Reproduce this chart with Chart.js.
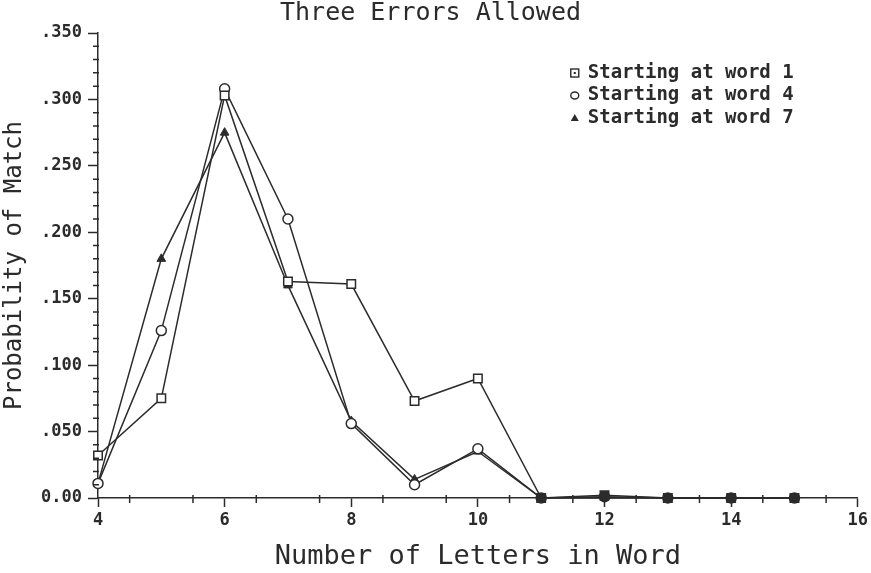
<!DOCTYPE html>
<html>
<head>
<meta charset="utf-8">
<script src="https://cdn.jsdelivr.net/npm/chart.js@4/dist/chart.umd.min.js"></script>
<style>
  html, body { margin: 0; padding: 0; background: #fff; }
  #wrap { width: 871px; height: 573px; }
</style>
</head>
<body>
<div id="wrap"><canvas id="errChart" width="871" height="573"></canvas></div>
<script>
// values
const letters = [4, 5, 6, 7, 8, 9, 10, 11, 12, 13, 14, 15];
const word1 = [0.032, 0.075, 0.303, 0.163, 0.161, 0.073, 0.090, 0, 0.002, 0, 0, 0];
const word4 = [0.011, 0.126, 0.308, 0.210, 0.056, 0.010, 0.037, 0, 0.001, 0, 0, 0];
const word7 = [0.011, 0.180, 0.275, 0.160, 0.058, 0.014, 0.035, 0, 0, 0, 0, 0];
const seriesNames = ['Starting at word 1', 'Starting at word 4', 'Starting at word 7'];
const yTickLabels = ['0.00', '.050', '.100', '.150', '.200', '.250', '.300', '.350'];

const ink = '#2b2b2b';
const mono = '"DejaVu Sans Mono", "Liberation Mono", monospace';

const toPoints = (vals) => letters.map((x, i) => ({ x: x, y: vals[i] }));

// where all three markers pile up on the axis they print as a dark blob
const pileFill = (c) => (c.raw && c.raw.y < 0.005 ? ink : '#fff');

// small crossing ticks between the labelled ones
const minorTicks = {
    id: 'minorTicks',
    afterDraw(chart) {
        const c = chart.ctx;
        const xs = chart.scales.x;
        const ys = chart.scales.y;
        c.save();
        c.strokeStyle = ink;
        c.lineWidth = 1.5;
        c.beginPath();
        for (let v = 4.5; v < 16; v += 1) {
            const px = xs.getPixelForValue(v);
            c.moveTo(px, ys.bottom - 3);
            c.lineTo(px, ys.bottom + 5);
        }
        for (let k = 1; k < 35; k++) {
            if (k % 5 === 0) continue;
            const py = ys.getPixelForValue(k / 100);
            c.moveTo(xs.left - 5, py);
            c.lineTo(xs.left + 1, py);
        }
        c.stroke();
        c.restore();
    }
};

// legend in the upper right of the plot
const cornerLegend = {
    id: 'cornerLegend',
    afterDraw(chart) {
        const c = chart.ctx;
        const area = chart.chartArea;
        const x0 = area.right - 283;
        const y0 = area.top + 40;
        c.save();
        c.font = 'bold 19px ' + mono;
        c.textBaseline = 'middle';
        c.fillStyle = ink;
        c.strokeStyle = ink;
        c.lineWidth = 1.4;
        seriesNames.forEach((name, i) => {
            const y = y0 + i * 22.5;
            if (i === 0) {
                c.strokeRect(x0 - 4, y - 4, 8, 8);
                c.fillRect(x0 - 1, y - 1, 2, 2);
            } else if (i === 1) {
                c.beginPath();
                c.ellipse(x0, y, 4, 3.5, 0, 0, Math.PI * 2);
                c.stroke();
            } else {
                c.beginPath();
                c.moveTo(x0, y - 4);
                c.lineTo(x0 + 4, y + 3);
                c.lineTo(x0 - 4, y + 3);
                c.closePath();
                c.fill();
            }
            c.fillText(name, x0 + 13, y);
        });
        c.restore();
    }
};

const ctx = document.getElementById('errChart').getContext('2d');
const chart = new Chart(ctx, {
    type: 'line',
    data: {
        datasets: [
            {
                label: seriesNames[0],
                data: toPoints(word1),
                clip: false,
                borderColor: ink,
                borderWidth: 1.5,
                pointStyle: 'rect',
                pointRadius: 6,
                pointBorderWidth: 1.5,
                pointBackgroundColor: pileFill,
                pointBorderColor: ink
            },
            {
                label: seriesNames[1],
                data: toPoints(word4),
                clip: false,
                borderColor: ink,
                borderWidth: 1.5,
                pointStyle: 'circle',
                pointRadius: 5,
                pointBorderWidth: 1.5,
                pointBackgroundColor: pileFill,
                pointBorderColor: ink
            },
            {
                label: seriesNames[2],
                data: toPoints(word7),
                clip: false,
                borderColor: ink,
                borderWidth: 1.5,
                pointStyle: 'triangle',
                pointRadius: 5,
                pointBorderWidth: 1,
                pointBackgroundColor: ink,
                pointBorderColor: ink
            }
        ]
    },
    options: {
        responsive: false,
        animation: false,
        layout: { padding: { left: 0, right: 10, top: 0, bottom: 0 } },
        plugins: {
            legend: { display: false },
            tooltip: { enabled: false },
            title: {
                display: true,
                text: 'Three Errors Allowed',
                color: ink,
                font: { family: mono, size: 25, weight: 'normal', lineHeight: 1.1 },
                padding: { top: 0, bottom: 5.5 }
            }
        },
        scales: {
            x: {
                type: 'linear',
                min: 4,
                max: 16,
                afterFit(scale) { scale.height = 75; },
                border: { display: true, color: ink, width: 1.5 },
                grid: {
                    display: true,
                    drawOnChartArea: false,
                    drawTicks: true,
                    tickLength: 9,
                    tickColor: ink,
                    tickWidth: 1.5
                },
                ticks: {
                    stepSize: 2,
                    color: ink,
                    padding: 3,
                    font: { family: mono, size: 17, weight: 'bold' }
                },
                title: {
                    display: true,
                    text: 'Number of Letters in Word',
                    color: ink,
                    font: { family: mono, size: 27 },
                    padding: { top: 0, bottom: 0 }
                }
            },
            y: {
                min: 0,
                max: 0.35,
                afterFit(scale) { scale.width = 98; },
                border: { display: true, color: ink, width: 1.5 },
                grid: {
                    display: true,
                    drawOnChartArea: false,
                    drawTicks: true,
                    tickLength: 10,
                    tickColor: ink,
                    tickWidth: 1.5
                },
                ticks: {
                    stepSize: 0.05,
                    color: ink,
                    padding: 6,
                    font: { family: mono, size: 17, weight: 'bold' },
                    callback: (value) => yTickLabels[Math.round(value / 0.05)]
                },
                title: {
                    display: true,
                    text: 'Probability of Match',
                    color: ink,
                    font: { family: mono, size: 24 },
                    padding: { top: 0, bottom: 0 }
                }
            }
        }
    },
    plugins: [minorTicks, cornerLegend]
});
</script>
</body>
</html>
